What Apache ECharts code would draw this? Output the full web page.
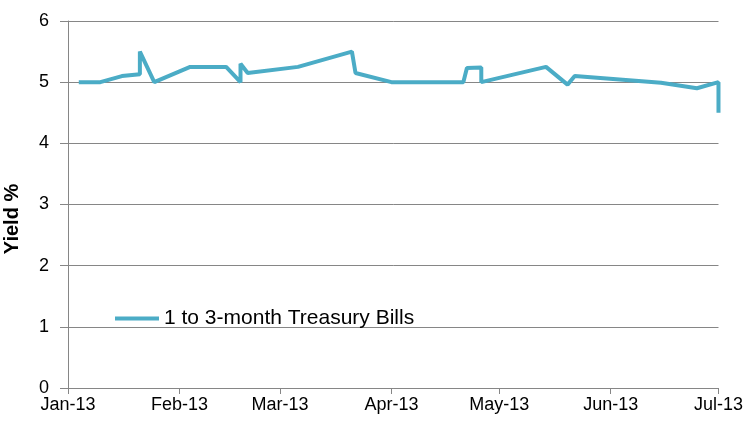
<!DOCTYPE html>
<html>
<head>
<meta charset="utf-8">
<script src="https://cdn.jsdelivr.net/npm/echarts@6/dist/echarts.min.js"></script>
<style>
  html, body { margin: 0; padding: 0; background: #fff; }
  #chart { width: 746px; height: 421px; }
</style>
</head>
<body>
<div id="chart"></div>
<script>
// dates / yields (same date twice = vertical jump)
const dates = [
  '2013-01-04', '2013-01-10', '2013-01-16', '2013-01-21', '2013-01-21',
  '2013-01-25', '2013-02-04', '2013-02-14', '2013-02-18', '2013-02-18',
  '2013-02-20', '2013-03-06', '2013-03-21', '2013-03-22', '2013-04-01',
  '2013-04-21', '2013-04-22', '2013-04-26', '2013-04-26', '2013-05-14',
  '2013-05-20', '2013-05-22', '2013-06-15', '2013-06-25', '2013-07-01',
  '2013-07-01'
]
const yields = [
  5.0, 5.0, 5.1, 5.13, 5.5,
  5.0, 5.25, 5.25, 5.0, 5.3,
  5.15, 5.25, 5.5, 5.15, 5.0,
  5.0, 5.23, 5.24, 5.0, 5.25,
  4.96, 5.1, 4.99, 4.9, 5.0,
  4.5
]
const seriesName = '1 to 3-month Treasury Bills'
const yTicks = [0, 1, 2, 3, 4, 5, 6]
const monthNames = ['Jan', 'Feb', 'Mar', 'Apr', 'May', 'Jun', 'Jul', 'Aug', 'Sep', 'Oct', 'Nov', 'Dec']

const lineColor = '#4bacc6'
const gridColor = '#868686'
const font = 'Liberation Sans, Arial, sans-serif'

const chart = echarts.init(document.getElementById('chart'))
const day = 24 * 3600 * 1000

chart.setOption({
  animation: false,
  grid: { left: 68, right: 27, top: 21, bottom: 33 },
  legend: {
    left: 115,
    top: 308,
    padding: 0,
    icon: 'rect',
    itemWidth: 44,
    itemHeight: 4,
    textStyle: { fontFamily: font, fontSize: 21, color: '#000' },
    data: [seriesName]
  },
  xAxis: {
    type: 'time',
    min: new Date(2013, 0, 1).getTime(),
    max: new Date(2013, 6, 1).getTime(),
    minInterval: 28 * day,
    maxInterval: 31 * day,
    axisLine: { lineStyle: { color: gridColor, width: 1 } },
    axisTick: { show: true, length: 6, lineStyle: { color: gridColor } },
    splitLine: { show: false },
    axisLabel: {
      margin: 8,
      fontFamily: font,
      fontSize: 18,
      color: '#000',
      showMinLabel: true,
      showMaxLabel: true,
      formatter: v => {
        const d = new Date(v)
        return monthNames[d.getMonth()] + '-' + String(d.getFullYear()).slice(2)
      }
    }
  },
  yAxis: {
    type: 'value',
    min: yTicks[0],
    max: yTicks[yTicks.length - 1],
    interval: 1,
    axisLine: { show: true, lineStyle: { color: gridColor, width: 1 } },
    axisTick: { show: true, length: 8, lineStyle: { color: gridColor } },
    splitLine: { show: true, lineStyle: { color: gridColor, width: 1 } },
    axisLabel: { margin: 19, fontFamily: font, fontSize: 18, color: '#000' }
  },
  graphic: [{
    type: 'text',
    x: 12,
    y: 219,
    rotation: Math.PI / 2,
    style: {
      text: 'Yield %',
      font: 'bold 20px ' + font,
      fill: '#000',
      align: 'center',
      verticalAlign: 'middle'
    }
  }],
  series: [{
    name: seriesName,
    type: 'line',
    showSymbol: false,
    symbol: 'none',
    lineStyle: { color: lineColor, width: 4 },
    itemStyle: { color: lineColor },
    data: dates.map((d, i) => [d, yields[i]])
  }]
})
</script>
</body>
</html>
